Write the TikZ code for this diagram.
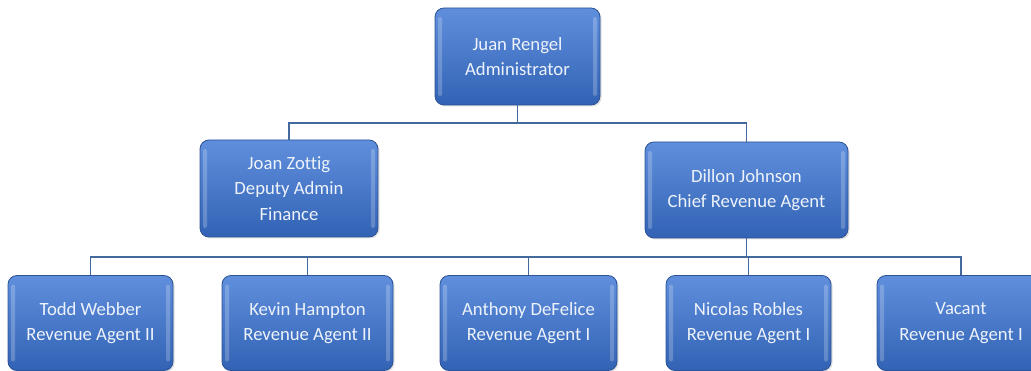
\documentclass[tikz,border=0pt]{standalone}
\usepackage{fontspec}
\setmainfont{Carlito}[Ligatures={NoCommon}]
\usetikzlibrary{positioning, calc, shadows}
\definecolor{boxtop}{HTML}{5F8FDC}
\definecolor{boxbot}{HTML}{3262B4}
\definecolor{boxedge}{HTML}{2C5395}
\definecolor{linkblue}{HTML}{44699E}
\definecolor{textwhite}{HTML}{EEF3FB}

\begin{document}
\begin{tikzpicture}[x=1pt, y=-1pt,
  person/.style={rectangle, rounded corners=9pt, draw=boxedge, line width=0.8pt, top color=boxtop, bottom color=boxbot, text=textwhite, align=center, inner sep=0pt, font=\fontsize{18.7}{25.5}\selectfont, minimum height=95pt,
    drop shadow={opacity=0.25, shadow xshift=1.5pt, shadow yshift=-1.5pt},
    path picture={
      \fill[white, opacity=0.22, rounded corners=2pt] ([xshift=3pt,yshift=-9pt]path picture bounding box.north west) rectangle ([xshift=7pt,yshift=9pt]path picture bounding box.south west);
      \fill[white, opacity=0.22, rounded corners=2pt] ([xshift=-3pt,yshift=-9pt]path picture bounding box.north east) rectangle ([xshift=-7pt,yshift=9pt]path picture bounding box.south east);
    }},
  link/.style={draw=linkblue, line width=1.8pt}
]
  \clip (0,0) rectangle (1031,371);

  \node[person, minimum width=165pt, minimum height=97pt] (juan) at (517.5,56.5) {Juan Rengel\\Administrator};
  \node[person, minimum width=178pt, minimum height=97pt] (joan) at (289,188.5) {Joan Zottig\\Deputy Admin\\Finance};
  \node[person, minimum width=203pt, minimum height=96pt] (dillon) at (746.5,190) {Dillon Johnson\\Chief Revenue Agent};

  \node[person, minimum width=165pt] (todd) at (90.5,323) {Todd Webber\\Revenue Agent II};
  \node[person, minimum width=171pt] (kevin) at (307.5,323) {Kevin Hampton\\Revenue Agent II};
  \node[person, minimum width=177pt] (anthony) at (528.5,323) {Anthony DeFelice\\Revenue Agent I};
  \node[person, minimum width=165pt] (nicolas) at (748.5,323) {Nicolas Robles\\Revenue Agent I};
  \node[person, minimum width=168pt] (vacant) at (961,323) {Vacant\\Revenue Agent I};

  \coordinate (bus1) at (0,123);
  \coordinate (bus2) at (0,257);

  \draw[link] (juan.south) -- (juan.south |- bus1) -| (joan.north);
  \draw[link] (juan.south |- bus1) -| (dillon.north);
  \foreach \n in {todd,kevin,anthony,nicolas,vacant}
    \draw[link] (dillon.south) -- (dillon.south |- bus2) -| (\n.north);
\end{tikzpicture}
\end{document}
